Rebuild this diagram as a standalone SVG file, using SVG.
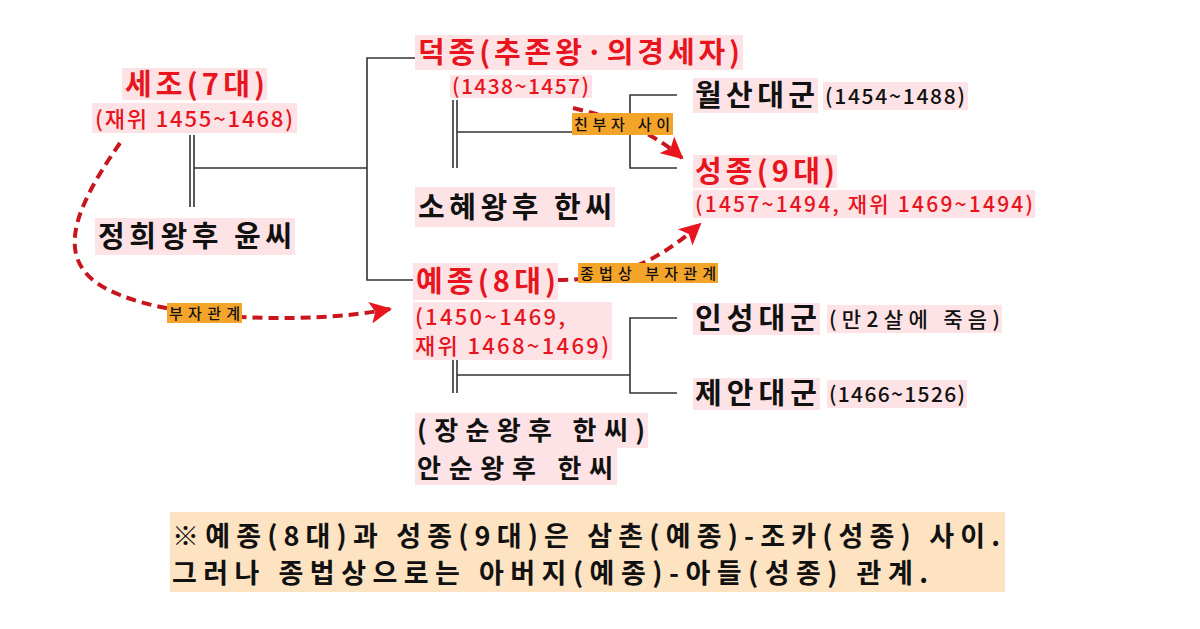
<svg xmlns="http://www.w3.org/2000/svg" width="1200" height="629" viewBox="0 0 1200 629">
<defs>
<style>
text{font-family:"Noto Sans CJK KR","Noto Sans",sans-serif;}
.bx{fill:#fde3e5;}
.red{fill:#e8141e;font-weight:700;}
.redS{fill:#e8141e;font-weight:500;}
.blk{fill:#111;font-weight:700;}
.blkS{fill:#111;font-weight:500;}
.lbl{fill:#f5a42a;}
.lt{fill:#111;font-size:15px;font-weight:500;}
.ln{fill:none;stroke:#333;stroke-width:1.6;}
.da{fill:none;stroke:#c8161e;stroke-width:4;stroke-dasharray:10 6;}
</style>
<marker id="ah" markerUnits="userSpaceOnUse" markerWidth="24" markerHeight="22" refX="20" refY="11" orient="auto">
<path d="M0,0 L22,11 L0,22 L5,11 Z" fill="#e8141e"/>
</marker>
</defs>
<rect width="1200" height="629" fill="#fff"/>

<g id="connectors">
<line class="ln" x1="190" y1="135" x2="190" y2="207"/>
<line class="ln" x1="194" y1="135" x2="194" y2="207"/>
<polyline class="ln" points="194,168 367,168"/>
<polyline class="ln" points="415,58 367,58 367,280 413,280"/>
<line class="ln" x1="453" y1="100" x2="453" y2="168"/>
<line class="ln" x1="457" y1="100" x2="457" y2="168"/>
<polyline class="ln" points="457,132 630,132"/>
<polyline class="ln" points="677,95 630,95 630,168 677,168"/>
<line class="ln" x1="453" y1="360" x2="453" y2="393"/>
<line class="ln" x1="457" y1="360" x2="457" y2="393"/>
<polyline class="ln" points="457,375 630,375"/>
<polyline class="ln" points="677,318 630,318 630,393 677,393"/>
<path class="da" d="M120,143 C70,215 50,268 120,295 C175,318 300,326 390,309" marker-end="url(#ah)"/>
<path class="da" d="M573,108 C615,118 650,130 682,158" marker-end="url(#ah)"/>
<path class="da" d="M558,280 C620,280 660,260 700,224" marker-end="url(#ah)"/>
<rect class="lbl" x="167" y="303" width="75" height="20"/>
<text class="lt" x="169" y="319" textLength="71">부자관계</text>
<rect class="lbl" x="572" y="113" width="101" height="22"/>
<text class="lt" x="574" y="130" textLength="96">친부자 사이</text>
<rect class="lbl" x="578" y="263" width="140" height="20"/>
<text class="lt" x="580" y="279" textLength="136">종법상 부자관계</text>
</g>

<g id="sejo">
<rect class="bx" x="122" y="68" width="145" height="32"/>
<text class="red" x="125" y="95" font-size="29" textLength="140">세조(7대)</text>
<rect class="bx" x="92" y="103" width="205" height="30"/>
<text class="redS" x="95" y="127" font-size="22" textLength="198">(재위 1455~1468)</text>
</g>

<g id="junghui">
<rect class="bx" x="95" y="218" width="200" height="37"/>
<text class="blk" x="98" y="247" font-size="29" textLength="194">정희왕후 윤씨</text>
</g>

<g id="deokjong">
<rect class="bx" x="415" y="35" width="328" height="35"/>
<text class="red" x="418" y="63" font-size="29" textLength="322">덕종(추존왕·의경세자)</text>
<rect class="bx" x="450" y="75" width="142" height="23"/>
<text class="redS" x="452" y="94" font-size="21" textLength="137">(1438~1457)</text>
</g>

<g id="sohye">
<rect class="bx" x="415" y="187" width="200" height="40"/>
<text class="blk" x="418" y="218" font-size="29" textLength="194">소혜왕후 한씨</text>
</g>

<g id="wolsan">
<rect class="bx" x="693" y="78" width="125" height="35"/>
<text class="blk" x="695" y="106" font-size="29" textLength="120">월산대군</text>
<rect class="bx" x="823" y="82" width="145" height="28"/>
<text class="blkS" x="825" y="104" font-size="21" textLength="140">(1454~1488)</text>
</g>

<g id="seongjong">
<rect class="bx" x="693" y="155" width="144" height="33"/>
<text class="red" x="695" y="182" font-size="29" textLength="140">성종(9대)</text>
<rect class="bx" x="693" y="190" width="342" height="28"/>
<text class="redS" x="695" y="212" font-size="21" textLength="338">(1457~1494, 재위 1469~1494)</text>
</g>

<g id="yejong">
<rect class="bx" x="413" y="263" width="145" height="37"/>
<text class="red" x="416" y="292" font-size="29" textLength="140">예종(8대)</text>
<rect class="bx" x="413" y="302" width="199" height="58"/>
<text class="redS" x="415" y="325" font-size="22" textLength="150">(1450~1469,</text>
<text class="redS" x="415" y="354" font-size="22" textLength="194">재위 1468~1469)</text>
</g>

<g id="ansun">
<rect class="bx" x="415" y="413" width="233" height="35"/>
<rect class="bx" x="415" y="448" width="202" height="37"/>
<text class="blk" x="417" y="440" font-size="26" textLength="228">(장순왕후 한씨)</text>
<text class="blk" x="417" y="478" font-size="26" textLength="196">안순왕후 한씨</text>
</g>

<g id="inseong">
<rect class="bx" x="693" y="303" width="127" height="32"/>
<text class="blk" x="695" y="329" font-size="29" textLength="122">인성대군</text>
<rect class="bx" x="827" y="305" width="175" height="28"/>
<text class="blkS" x="829" y="327" font-size="21" textLength="171">(만2살에 죽음)</text>
</g>

<g id="jean">
<rect class="bx" x="693" y="378" width="127" height="32"/>
<text class="blk" x="695" y="404" font-size="29" textLength="122">제안대군</text>
<rect class="bx" x="827" y="380" width="140" height="28"/>
<text class="blkS" x="829" y="402" font-size="21" textLength="136">(1466~1526)</text>
</g>

<g id="note">
<rect x="170" y="512" width="835" height="80" fill="#fde3c2"/>
<text class="blk" x="172" y="546" font-size="27" textLength="828">※예종(8대)과 성종(9대)은 삼촌(예종)-조카(성종) 사이.</text>
<text class="blk" x="172" y="583" font-size="27" textLength="756">그러나 종법상으로는 아버지(예종)-아들(성종) 관계.</text>
</g>
</svg>
